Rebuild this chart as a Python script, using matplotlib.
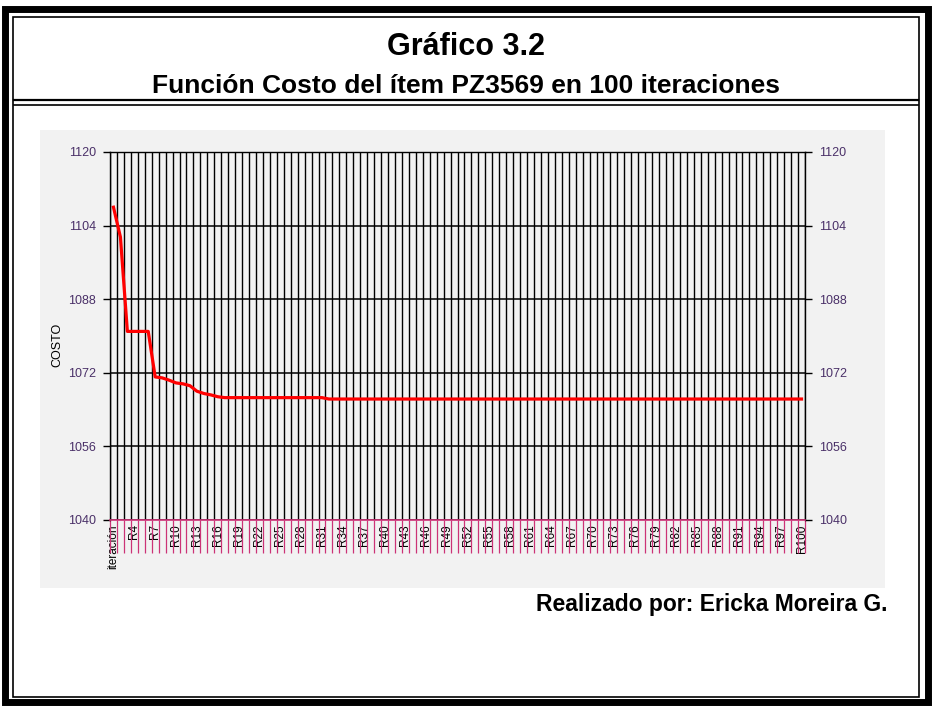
import matplotlib
matplotlib.use("Agg")
import matplotlib.pyplot as plt
from matplotlib.patches import Rectangle
from matplotlib.lines import Line2D

plt.rcParams['font.family'] = ['Liberation Sans', 'DejaVu Sans']

# ---- data ----
categories = ["iteración"] + [f"R{i}" for i in range(2, 101)]
head_costs = [1108.0, 1101.5, 1081.0, 1081.0, 1081.0, 1081.0, 1071.1, 1070.9,
              1070.4, 1069.8, 1069.6, 1069.2, 1068.0, 1067.5, 1067.2, 1066.8]
mid_costs = [1066.6] * 15          # R17 .. R31
tail_costs = [1066.3] * 69         # R32 .. R100
costs = head_costs + mid_costs + tail_costs
y_ticks = [1040, 1056, 1072, 1088, 1104, 1120]
label_step = 3

W, H = 932, 706
fig = plt.figure(figsize=(W / 100, H / 100), dpi=100)
fig.patch.set_facecolor('white')

def fx(x):
    return x / W

def fy(y):
    return 1 - y / H

# frames
fig.add_artist(Rectangle((fx(5), fy(702)), fx(923), (702 - 9) / H, transform=fig.transFigure,
                         fill=False, ec='black', lw=5))
fig.add_artist(Rectangle((fx(13), fy(697)), fx(906), (697 - 17) / H, transform=fig.transFigure,
                         fill=False, ec='black', lw=1.2))
# double line under subtitle
for yy, lw in [(100, 1.6), (105, 1.2)]:
    fig.add_artist(Line2D([fx(14), fx(918)], [fy(yy), fy(yy)], transform=fig.transFigure,
                          color='black', lw=lw))

# titles
fig.text(0.5, fy(47), "Gráfico 3.2", ha='center', va='center', fontsize=22, fontweight='bold')
fig.text(0.5, fy(86), "Función Costo del ítem PZ3569 en 100 iteraciones", ha='center', va='center',
         fontsize=19, fontweight='bold')
fig.text(fx(888), fy(605), "Realizado por: Ericka Moreira G.", ha='right', va='center',
         fontsize=16.5, fontweight='bold')

# gray panel
fig.add_artist(Rectangle((fx(40), fy(588)), (885 - 40) / W, (588 - 130) / H,
                         transform=fig.transFigure, fc='#f2f2f2', ec='none', zorder=0))

ax = fig.add_axes([fx(110), fy(520), (805 - 110) / W, (520 - 152) / H])
ax.set_facecolor('#f2f2f2')
x = list(range(len(categories)))
ax.set_xlim(-0.5, len(categories) - 0.5)
ax.set_ylim(1040, 1120)

# vertical gridlines at category boundaries
bounds = [i - 0.5 for i in range(len(categories) + 1)]
ax.set_xticks(bounds, minor=True)
ax.grid(which='minor', axis='x', color='black', lw=1.0)
ax.tick_params(axis='x', which='minor', length=24, color='#cc3377', width=0.9, direction='out')

ax.set_xticks(x[::label_step])
ax.set_xticklabels(categories[::label_step], rotation=90, fontsize=8.5)
ax.tick_params(axis='x', which='major', length=0, pad=3)

ax.set_yticks(y_ticks)
ax.grid(which='major', axis='y', color='black', lw=1.1)
ax.tick_params(axis='y', which='major', length=5, width=1, color='black',
               left=True, right=True, labelleft=True, labelright=True,
               labelsize=9, labelcolor='#4a3068', pad=5)

for s in ['left', 'right', 'top']:
    ax.spines[s].set_color('black')
    ax.spines[s].set_linewidth(1)
ax.spines['bottom'].set_color('#cc3377')
ax.spines['bottom'].set_linewidth(1.2)

ax.plot(x, costs, color='#ff0000', lw=2.3, zorder=5)

fig.text(fx(57), fy(345), "COSTO", rotation=90, ha='center', va='center', fontsize=9)

fig.savefig('out.png', dpi=100)
